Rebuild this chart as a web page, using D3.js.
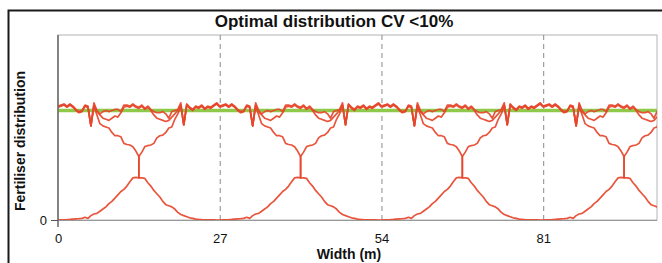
<!DOCTYPE html>
<html lang="en">
<head>
<meta charset="utf-8" />
<title>Optimal distribution CV &lt;10%</title>
<script src="https://d3js.org/d3.v7.min.js"></script>
<style>
  body { margin: 0; background: #fff; }
  text { font-family: "Liberation Sans", Arial, sans-serif; fill: #111; }
</style>
</head>
<body>
<div id="myDiv"></div>
<script>
// tramline positions (m), the spread repeats every 27 m bout
var bouts = [0, 27, 54, 81];
var xTicks = [0, 27, 54, 81];
var yTicks = [0];
var target = 100;

// positions inside one bout, 13.5 is listed twice because the curves jump there
var grid = d3.range(0, 13.51, 0.5).concat(d3.range(13.5, 27.01, 0.5));

// total of all passes
var total = [104, 105, 106, 104, 106, 104, 101, 99, 100, 105, 104, 86, 107, 100,
  97, 99, 100, 99, 100, 101, 101, 99, 105, 105, 104, 106, 104, 103,
  103, 105, 102, 104, 101, 99, 98, 98, 99, 97, 93, 99, 100, 101,
  107, 87, 106, 103, 101, 104, 103, 105, 102, 104, 103, 105, 107, 104];

// sum of the two neighbouring passes
var overlap = [103, 104, 105, 103, 105, 103, 100, 98, 99, 104, 103, 86, 105, 99,
  96, 93, 92, 91, 93, 95, 94, 98, 103, 104, 103, 105, 103, 102,
  102, 104, 101, 103, 100, 96, 93, 92, 91, 90, 91, 94, 97, 100,
  105, 87, 105, 102, 100, 103, 102, 104, 101, 103, 102, 104, 106, 103];

// pass on the left tramline
var leftPass = [103.5, 104.5, 105.5, 103.5, 105.5, 103.5, 100.5, 98.5, 99.5, 104, 103, 86, 104, 96,
  88, 86, 85, 84, 80, 77, 77, 76, 70, 69, 68.5, 67, 63, 58,
  38.5, 38.5, 38, 34, 31, 27, 24, 21, 17, 14, 13, 12, 10, 7,
  5, 4, 3, 2, 1.5, 0.8, 0.5, 0.3, 0.2, 0.2, 0.1, 0.1, 0, 0];

// pass on the right tramline
var rightPass = [0, 0.1, 0.2, 0.3, 0.5, 0.8, 1, 1.2, 1.5, 2.5, 1.5, 4, 5.5, 6,
  8, 10, 12, 15, 17, 20, 23, 26, 28, 31, 35, 38.5, 39, 38.5,
  58, 62, 67, 68, 68.5, 70, 75, 77, 77.6, 80, 84, 85, 92, 97,
  104, 87, 105.5, 102.5, 100.5, 103.5, 102.5, 104.5, 101.5, 103.5, 102.5, 104.5, 106.5, 103.5];

function drawChart() {
  var width = 662;
  var height = 263;

  var svg = d3.select("#myDiv").append("svg")
      .attr("width", width)
      .attr("height", height);

  var xScale = d3.scaleLinear().domain([0, 100]).range([58, 657]);
  var yScale = d3.scaleLinear().domain([0, 169]).range([220, 35]);

  // black frame round the figure
  svg.append("path")
      .attr("d", "M8.5," + height + "V10.5H" + width)
      .attr("fill", "none")
      .attr("stroke", "#1a1a1a")
      .attr("stroke-width", 2);

  // plot border
  svg.append("rect")
      .attr("x", xScale(0))
      .attr("y", yScale(169))
      .attr("width", xScale(100) - xScale(0))
      .attr("height", yScale(0) - yScale(169))
      .attr("fill", "none")
      .attr("stroke", "#b4b4b4");

  // dashed lines on the tramlines
  svg.selectAll(".grid")
      .data(xTicks.filter(function(d) { return d > 0; }))
      .enter().append("line")
      .attr("x1", function(d) { return xScale(d) + 0.5; })
      .attr("x2", function(d) { return xScale(d) + 0.5; })
      .attr("y1", yScale(169))
      .attr("y2", yScale(0))
      .attr("stroke", "#8a8a8a")
      .attr("stroke-dasharray", "5,4");

  // target rate
  svg.append("line")
      .attr("x1", xScale(0))
      .attr("x2", xScale(100))
      .attr("y1", yScale(target))
      .attr("y2", yScale(target))
      .attr("stroke", "#8fc94a")
      .attr("stroke-width", 3.5);

  svg.append("clipPath").attr("id", "plotClip")
    .append("rect")
      .attr("x", xScale(0))
      .attr("y", yScale(169))
      .attr("width", xScale(100) - xScale(0))
      .attr("height", yScale(0) - yScale(169) + 2);

  var line = d3.line()
      .x(function(d) { return xScale(d.x); })
      .y(function(d) { return yScale(d.v); });

  var series = [leftPass, rightPass, overlap, total];
  var curves = [];
  bouts.forEach(function(b) {
    series.forEach(function(s) {
      curves.push(grid.map(function(g, i) { return { x: b + g, v: s[i] }; }));
    });
  });

  svg.append("g")
      .attr("clip-path", "url(#plotClip)")
    .selectAll("path")
      .data(curves)
      .enter().append("path")
      .attr("d", line)
      .attr("fill", "none")
      .attr("stroke", "#e6472b")
      .attr("stroke-opacity", 0.92)
      .attr("stroke-width", 1.7)
      .attr("stroke-linejoin", "round");

  // axes
  svg.append("line")
      .attr("x1", xScale(0)).attr("x2", xScale(100))
      .attr("y1", yScale(0) + 0.5).attr("y2", yScale(0) + 0.5)
      .attr("stroke", "#999");

  svg.append("line")
      .attr("x1", xScale(0)).attr("x2", xScale(0))
      .attr("y1", yScale(169)).attr("y2", yScale(0) + 7)
      .attr("stroke", "#666")
      .attr("stroke-width", 1.5);

  var xAxis = svg.append("g")
      .attr("transform", "translate(0," + yScale(0) + ")")
      .call(d3.axisBottom(xScale).tickValues(xTicks).tickSize(0).tickPadding(14));
  xAxis.select(".domain").remove();
  xAxis.selectAll("text").attr("font-size", "13px").style("font-family", "Liberation Sans, Arial, sans-serif");

  var yAxis = svg.append("g")
      .attr("transform", "translate(" + xScale(0) + ",0)")
      .call(d3.axisLeft(yScale).tickValues(yTicks).tickSize(7).tickPadding(4));
  yAxis.select(".domain").remove();
  yAxis.selectAll("line").attr("stroke", "#555");
  yAxis.selectAll("text").attr("font-size", "13px").style("font-family", "Liberation Sans, Arial, sans-serif");

  // titles
  svg.append("text")
      .attr("x", 334)
      .attr("y", 27)
      .attr("text-anchor", "middle")
      .attr("font-size", "17px")
      .attr("font-weight", "bold")
      .text("Optimal distribution CV <10%");

  // x label kept just above the bottom edge
  svg.append("text")
      .attr("x", 349)
      .attr("y", 259)
      .attr("text-anchor", "middle")
      .attr("font-size", "14px")
      .attr("font-weight", "bold")
      .text("Width (m)");

  svg.append("text")
      .attr("transform", "translate(25,141) rotate(-90)")
      .attr("text-anchor", "middle")
      .attr("font-size", "14px")
      .attr("font-weight", "bold")
      .text("Fertiliser distribution");
}

drawChart();
</script>
</body>
</html>
